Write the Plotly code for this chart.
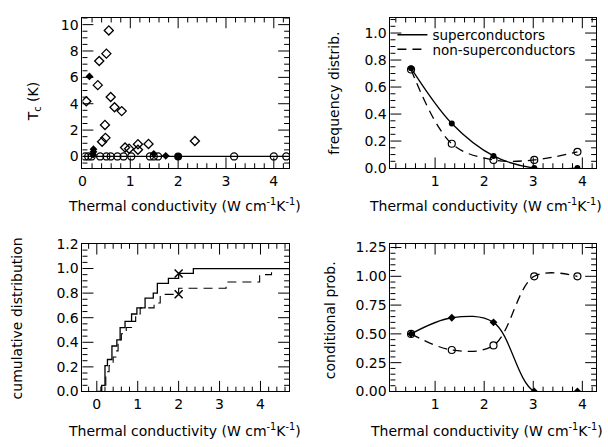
import math
import plotly.graph_objects as go

W, H = 608, 447

# ---------------- data ----------------
sc_open_x = [0.08, 0.55, 0.50, 0.35, 0.32, 0.59, 0.67, 0.82, 0.47, 0.48, 0.41, 0.89, 0.975, 1.16, 1.16, 1.38, 2.35]
sc_open_y = [4.19, 9.56, 7.80, 7.24, 5.41, 4.51, 3.73, 3.44, 2.39, 1.41, 1.12, 0.68, 0.59, 0.93, 0.51, 0.95, 1.17]
sc_fill_x = [0.145, 0.23, 0.23, 0.22, 1.49, 1.74]
sc_fill_y = [6.07, 0.55, 0.35, 0.15, 0.20, 0.05]
nsc_x = [0.055, 0.12, 0.19, 0.37, 0.50, 0.59, 0.73, 0.86, 1.02, 1.41, 1.49, 1.58, 3.17, 4.00, 4.26]
nsc_y = [0.0] * len(nsc_x)
nsc_fill_x = [2.0]
nsc_fill_y = [0.0]
base_x = [0.0, 4.32]
base_y = [0.0, 0.0]

bins = [0.51, 1.34, 2.19, 3.02, 3.90]
freq_sc = [0.74, 0.33, 0.09, 0.0, 0.0]
freq_nsc = [0.73, 0.18, 0.06, 0.06, 0.12]
cond_sc = [0.50, 0.64, 0.60, 0.0, 0.0]
cond_nsc = [0.50, 0.36, 0.40, 1.00, 1.00]

cum_sc_x = [0.0, 0.12, 0.20, 0.26, 0.37, 0.49, 0.57, 0.69, 0.85, 0.98, 1.18, 1.38, 1.48, 1.75, 2.00, 2.36, 4.70]
cum_sc_y = [0.0, 0.05, 0.21, 0.26, 0.37, 0.42, 0.52, 0.57, 0.63, 0.68, 0.76, 0.80, 0.88, 0.92, 0.96, 1.00, 1.00]
cum_nsc_x = [0.0, 0.10, 0.22, 0.30, 0.40, 0.47, 0.52, 0.60, 0.72, 0.85, 0.95, 1.06, 1.40, 1.55, 2.00, 3.16, 3.98, 4.27, 4.70]
cum_nsc_y = [0.0, 0.05, 0.16, 0.21, 0.28, 0.33, 0.42, 0.47, 0.52, 0.57, 0.63, 0.68, 0.72, 0.79, 0.84, 0.89, 0.95, 1.00, 1.00]
cross_x = [2.0, 2.0]
cross_y = [0.96, 0.79]

xtitle = "Thermal conductivity (W cm<sup>-1</sup>K<sup>-1</sup>)"
FONT = "DejaVu Sans"
FS = 14
DASH = "9px,6px"

fig = go.Figure()

fig.add_trace(go.Scatter(x=base_x, y=base_y, mode="lines", line=dict(color="black", width=1.2),
                         xaxis="x", yaxis="y", showlegend=False))
fig.add_trace(go.Scatter(x=sc_open_x, y=sc_open_y, mode="markers",
                         marker=dict(symbol="diamond-open", size=7, color="black", line=dict(width=1.3)),
                         xaxis="x", yaxis="y", showlegend=False))
fig.add_trace(go.Scatter(x=sc_fill_x, y=sc_fill_y, mode="markers",
                         marker=dict(symbol="diamond", size=6, color="black"),
                         xaxis="x", yaxis="y", showlegend=False))
fig.add_trace(go.Scatter(x=nsc_x, y=nsc_y, mode="markers",
                         marker=dict(symbol="circle-open", size=7, color="black", line=dict(width=1.3)),
                         xaxis="x", yaxis="y", showlegend=False))
fig.add_trace(go.Scatter(x=nsc_fill_x, y=nsc_fill_y, mode="markers",
                         marker=dict(symbol="circle", size=8, color="black"),
                         xaxis="x", yaxis="y", showlegend=False))

fig.add_trace(go.Scatter(x=bins, y=freq_sc, mode="lines", name="superconductors",
                         line=dict(color="black", width=1.3, shape="spline", smoothing=1.0),
                         xaxis="x2", yaxis="y2", showlegend=True, legend="legend"))
fig.add_trace(go.Scatter(x=bins, y=freq_nsc, mode="lines", name="non-superconductors",
                         line=dict(color="black", width=1.3, shape="spline", smoothing=1.0, dash=DASH),
                         xaxis="x2", yaxis="y2", showlegend=True, legend="legend2"))
fig.add_trace(go.Scatter(x=bins, y=freq_sc, mode="markers",
                         marker=dict(symbol="circle", size=6, color="black"),
                         xaxis="x2", yaxis="y2", showlegend=False))
fig.add_trace(go.Scatter(x=bins, y=freq_nsc, mode="markers",
                         marker=dict(symbol="circle-open", size=7, color="black", line=dict(width=1.2)),
                         xaxis="x2", yaxis="y2", showlegend=False))

fig.add_trace(go.Scatter(x=cum_sc_x, y=cum_sc_y, mode="lines",
                         line=dict(color="black", width=1.3, shape="hv"),
                         xaxis="x3", yaxis="y3", showlegend=False))
fig.add_trace(go.Scatter(x=cum_nsc_x, y=cum_nsc_y, mode="lines",
                         line=dict(color="black", width=1.1, shape="hv", dash=DASH),
                         xaxis="x3", yaxis="y3", showlegend=False))
fig.add_trace(go.Scatter(x=cross_x, y=cross_y, mode="markers",
                         marker=dict(symbol="x-thin-open", size=8, color="black", line=dict(width=1.5)),
                         xaxis="x3", yaxis="y3", showlegend=False))

fig.add_trace(go.Scatter(x=bins, y=cond_sc, mode="lines",
                         line=dict(color="black", width=1.3, shape="spline", smoothing=1.0),
                         xaxis="x4", yaxis="y4", showlegend=False))
fig.add_trace(go.Scatter(x=bins, y=cond_nsc, mode="lines",
                         line=dict(color="black", width=1.3, shape="spline", smoothing=1.0, dash=DASH),
                         xaxis="x4", yaxis="y4", showlegend=False))
fig.add_trace(go.Scatter(x=bins, y=cond_sc, mode="markers",
                         marker=dict(symbol="diamond", size=6, color="black"),
                         xaxis="x4", yaxis="y4", showlegend=False))
fig.add_trace(go.Scatter(x=bins, y=cond_nsc, mode="markers",
                         marker=dict(symbol="circle-open", size=7, color="black", line=dict(width=1.2)),
                         xaxis="x4", yaxis="y4", showlegend=False))


def px_x(p):
    return p / W


def px_y(p):
    return 1 - p / H


xd_l = [px_x(79), px_x(287)]
xd_r = [px_x(389), px_x(596)]
yd_t = [px_y(166), px_y(10)]
yd_b = [px_y(397.7), px_y(244.7)]


def axis(domain, rng, dtick, anchor, fmt=None):
    d = dict(domain=domain, range=rng, anchor=anchor, dtick=dtick, ticks="",
             mirror=True, showline=True, linecolor="black", linewidth=1,
             showgrid=False, zeroline=False,
             tickfont=dict(size=FS, color="black", family=FONT))
    if fmt:
        d["tickformat"] = fmt
    return d


# axis tick marks (inside, on all four sides), spaced by the axis steps
panels = [
    dict(xa="x", ya="y", xr=[0, 4.32], yr=[-0.88, 10.53], xmaj=1, xmin=0.2, ymaj=2, ymin=0.5,
         w=208, h=156),
    dict(xa="x2", ya="y2", xr=[0.09, 4.28], yr=[0, 1.114], xmaj=1, xmin=0.2, ymaj=0.2, ymin=0.05,
         w=207, h=156),
    dict(xa="x3", ya="y3", xr=[-0.35, 4.7], yr=[0, 1.2], xmaj=1, xmin=0.2, ymaj=0.2, ymin=0.05,
         w=207, h=153),
    dict(xa="x4", ya="y4", xr=[0.09, 4.28], yr=[0, 1.281], xmaj=1, xmin=0.2, ymaj=0.25, ymin=0.05,
         w=207, h=153),
]
MAJ, MIN = 11, 5


def steps(lo, hi, step):
    out = []
    k0 = math.ceil(lo / step - 1e-9)
    k1 = math.floor(hi / step + 1e-9)
    for k in range(k0, k1 + 1):
        v = round(k * step, 6)
        if lo + 1e-6 < v < hi - 1e-6:
            out.append(v)
    return out


def is_major(v, maj):
    q = v / maj
    return abs(q - round(q)) < 1e-6


shapes = []
tick_line = dict(color="black", width=1)
for p in panels:
    for v in steps(p["xr"][0], p["xr"][1], p["xmin"]):
        L = (MAJ if is_major(v, p["xmaj"]) else MIN) / p["h"]
        shapes.append(dict(type="line", xref=p["xa"], yref=p["ya"] + " domain",
                           x0=v, x1=v, y0=0, y1=L, line=tick_line, layer="above"))
        shapes.append(dict(type="line", xref=p["xa"], yref=p["ya"] + " domain",
                           x0=v, x1=v, y0=1, y1=1 - L, line=tick_line, layer="above"))
    for v in steps(p["yr"][0], p["yr"][1], p["ymin"]):
        L = (MAJ if is_major(v, p["ymaj"]) else MIN) / p["w"]
        shapes.append(dict(type="line", xref=p["xa"] + " domain", yref=p["ya"],
                           x0=0, x1=L, y0=v, y1=v, line=tick_line, layer="above"))
        shapes.append(dict(type="line", xref=p["xa"] + " domain", yref=p["ya"],
                           x0=1, x1=1 - L, y0=v, y1=v, line=tick_line, layer="above"))

annotations = []
for (cx, cy) in [(181.5, 204), (485, 204), (181.7, 437.3), (485.3, 437.3)]:
    annotations.append(dict(text=xtitle, x=px_x(cx), y=px_y(cy), xref="paper", yref="paper",
                            showarrow=False, xanchor="center", yanchor="middle",
                            font=dict(size=FS, color="black", family=FONT)))
for (txt, cx, cy) in [("T<sub>c</sub> (K)", 30, 97), ("frequency distrib.", 332, 88),
                      ("cumulative distribution", 14, 322), ("conditional prob.", 329, 324)]:
    annotations.append(dict(text=txt, x=px_x(cx), y=px_y(cy), xref="paper", yref="paper",
                            showarrow=False, xanchor="center", yanchor="middle", textangle=-90,
                            font=dict(size=FS, color="black", family=FONT)))

leg_common = dict(xanchor="left", yanchor="middle", bgcolor="rgba(0,0,0,0)",
                  font=dict(size=13.5, family=FONT, color="black"), itemwidth=30,
                  borderwidth=0)

fig.update_layout(
    width=W, height=H, margin=dict(l=0, r=0, t=0, b=0),
    plot_bgcolor="white", paper_bgcolor="white",
    font=dict(family=FONT, color="black", size=FS),
    xaxis=axis(xd_l, [0, 4.32], 1, "y"),
    yaxis=axis(yd_t, [-0.88, 10.53], 2, "x"),
    xaxis2=axis(xd_r, [0.09, 4.28], 1, "y2"),
    yaxis2=axis(yd_t, [0, 1.114], 0.2, "x2", ".1f"),
    xaxis3=axis(xd_l, [-0.35, 4.7], 1, "y3"),
    yaxis3=axis(yd_b, [0, 1.2], 0.2, "x3", ".1f"),
    xaxis4=axis(xd_r, [0.09, 4.28], 1, "y4"),
    yaxis4=axis(yd_b, [0, 1.281], 0.25, "x4", ".2f"),
    legend=dict(x=px_x(391), y=px_y(28), **leg_common),
    legend2=dict(x=px_x(391), y=px_y(43), **leg_common),
    annotations=annotations,
    shapes=shapes,
)

fig.write_html("out.html")
